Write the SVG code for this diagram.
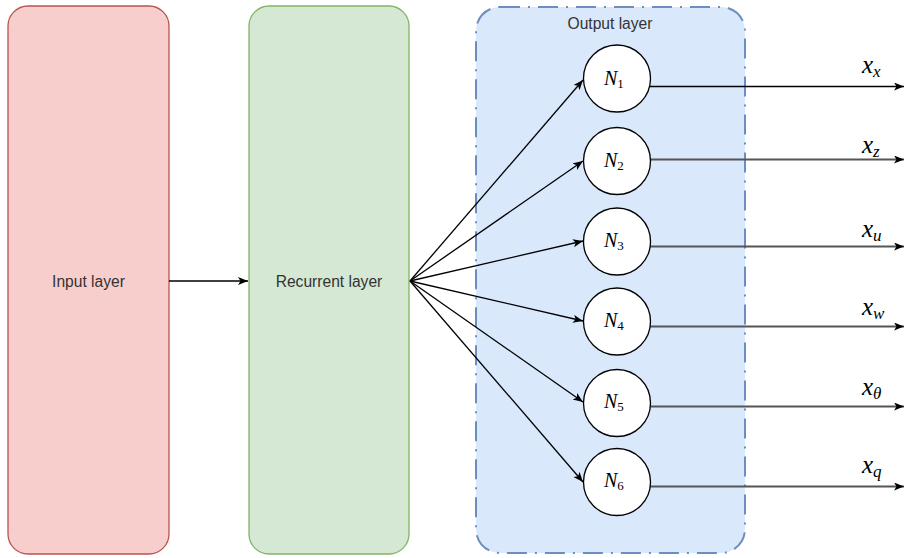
<svg xmlns="http://www.w3.org/2000/svg" width="905" height="558" viewBox="0 0 905 558">
<defs>
<marker id="arr" markerWidth="12" markerHeight="10" refX="10" refY="4" orient="auto" markerUnits="userSpaceOnUse">
<path d="M0,0 L10,4 L0,8 L2.5,4 Z" fill="#000"/>
</marker>
<style>
.lbl{font-family:"Liberation Sans",Arial,sans-serif;font-size:15.6px;fill:#333;text-anchor:middle}
.math{font-family:"Liberation Serif","Times New Roman",serif;font-style:italic;fill:#000}
.n{font-size:20px}
.nsub{font-size:13px;font-style:normal}
.x{font-size:25px}
.xsub{font-size:17px}
.circ{fill:#fff;stroke:#000;stroke-width:1.3}
.fan{stroke:#000;stroke-width:1.3;fill:none;marker-end:url(#arr)}
.out{stroke:#555;stroke-width:1.8;fill:none;marker-end:url(#arr)}
</style>
</defs>
<rect width="905" height="558" fill="#fff"/>
<g id="input-layer">
<rect x="8" y="6" width="161" height="548" rx="20" fill="#f8cecc" stroke="#b85450" stroke-width="1.3"/>
<text class="lbl" x="88.5" y="287">Input layer</text>
</g>
<g id="recurrent-layer">
<rect x="249" y="6" width="160" height="548" rx="20" fill="#d5e8d4" stroke="#82b366" stroke-width="1.3"/>
<text class="lbl" x="329" y="287">Recurrent layer</text>
</g>
<g id="output-layer">
<rect x="476" y="7" width="269" height="546" rx="24" fill="#dae8fc" stroke="#6c8ebf" stroke-width="2" stroke-dasharray="20 8 2 8"/>
<text class="lbl" x="610" y="29">Output layer</text>
</g>
<g id="connectors">
<line x1="169" y1="281" x2="248" y2="281" class="fan"/>
<line x1="410" y1="281" x2="583" y2="80" class="fan"/>
<line x1="410" y1="281" x2="583" y2="161" class="fan"/>
<line x1="410" y1="281" x2="583" y2="241" class="fan"/>
<line x1="410" y1="281" x2="583" y2="321" class="fan"/>
<line x1="410" y1="281" x2="583" y2="402" class="fan"/>
<line x1="410" y1="281" x2="583" y2="482" class="fan"/>
<line x1="643" y1="86.5" x2="904" y2="86.5" class="fan"/>
<line x1="650" y1="159.5" x2="904" y2="159.5" class="out"/>
<line x1="650" y1="246.5" x2="904" y2="246.5" class="out"/>
<line x1="650" y1="326.5" x2="904" y2="326.5" class="out"/>
<line x1="650" y1="406.5" x2="904" y2="406.5" class="out"/>
<line x1="650" y1="486.5" x2="904" y2="486.5" class="out"/>
</g>
<g id="N1">
<circle class="circ" cx="617" cy="78.5" r="33.5"/>
<text class="math n" x="604" y="85">N<tspan class="nsub" dy="3">1</tspan></text>
</g>
<g id="N2">
<circle class="circ" cx="617" cy="161" r="33.5"/>
<text class="math n" x="604" y="167">N<tspan class="nsub" dy="3">2</tspan></text>
</g>
<g id="N3">
<circle class="circ" cx="617" cy="241.5" r="33.5"/>
<text class="math n" x="604" y="247">N<tspan class="nsub" dy="3">3</tspan></text>
</g>
<g id="N4">
<circle class="circ" cx="617" cy="321.5" r="33.5"/>
<text class="math n" x="604" y="327">N<tspan class="nsub" dy="3">4</tspan></text>
</g>
<g id="N5">
<circle class="circ" cx="617" cy="403" r="33.5"/>
<text class="math n" x="604" y="408">N<tspan class="nsub" dy="3">5</tspan></text>
</g>
<g id="N6">
<circle class="circ" cx="617" cy="482" r="33.5"/>
<text class="math n" x="604" y="487">N<tspan class="nsub" dy="3">6</tspan></text>
</g>
<g id="labels">
<text class="math x" x="862" y="73">x<tspan class="xsub" dy="4">x</tspan></text>
<text class="math x" x="862" y="153">x<tspan class="xsub" dy="4">z</tspan></text>
<text class="math x" x="862" y="236.5">x<tspan class="xsub" dy="4">u</tspan></text>
<text class="math x" x="862" y="315">x<tspan class="xsub" dy="4">w</tspan></text>
<text class="math x" x="862" y="395">x<tspan class="xsub" dy="4">θ</tspan></text>
<text class="math x" x="862" y="473">x<tspan class="xsub" dy="4">q</tspan></text>
</g>
</svg>
